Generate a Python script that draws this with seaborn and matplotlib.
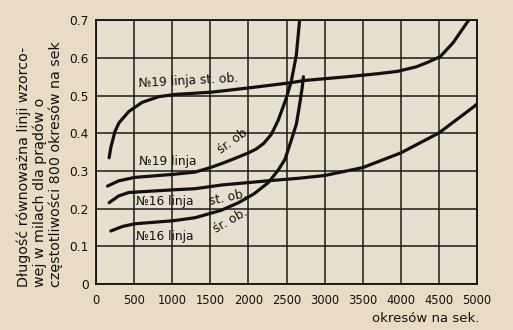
import matplotlib
matplotlib.use("Agg")
import matplotlib.pyplot as plt
import seaborn as sns
import pandas as pd

# Data
x_19_st = [173, 195, 250, 303, 433, 606, 823, 1039, 1516, 1992, 2555, 2737, 3300, 3700, 3950, 4200, 4350, 4515, 4685, 4890]
y_19_st = [0.335, 0.362, 0.405, 0.428, 0.458, 0.482, 0.497, 0.503, 0.509, 0.520, 0.534, 0.540, 0.550, 0.558, 0.564, 0.576, 0.588, 0.603, 0.640, 0.700]

x_19_sr = [152, 300, 510, 1009, 1299, 1500, 1654, 1819, 2000, 2100, 2200, 2300, 2390, 2490, 2563, 2628, 2672]
y_19_sr = [0.260, 0.274, 0.283, 0.291, 0.297, 0.309, 0.320, 0.333, 0.348, 0.358, 0.373, 0.397, 0.434, 0.489, 0.538, 0.606, 0.700]

x_16_st = [173, 300, 433, 1009, 1299, 1654, 2260, 2676, 3000, 3500, 4000, 4500, 4967, 5000]
y_16_st = [0.216, 0.234, 0.243, 0.250, 0.253, 0.263, 0.274, 0.281, 0.288, 0.309, 0.348, 0.401, 0.472, 0.478]

x_16_sr = [195, 350, 510, 1009, 1299, 1646, 1871, 2078, 2260, 2390, 2480, 2560, 2630, 2675, 2705, 2722]
y_16_sr = [0.141, 0.153, 0.160, 0.168, 0.176, 0.196, 0.216, 0.240, 0.269, 0.302, 0.331, 0.380, 0.425, 0.480, 0.520, 0.550]

x_ticks = [0, 500, 1000, 1500, 2000, 2500, 3000, 3500, 4000, 4500, 5000]
y_ticks = [0, 0.1, 0.2, 0.3, 0.4, 0.5, 0.6, 0.7]
y_tick_labels = ["0", "0.1", "0.2", "0.3", "0.4", "0.5", "0.6", "0.7"]

sns.set_theme(style="white")
plt.rcParams["font.family"] = ["DejaVu Sans"]

fig = plt.figure(figsize=(5.13, 3.30), dpi=100)
fig.patch.set_facecolor("#e9dcc5")
ax = fig.add_axes([0.187, 0.139, 0.743, 0.800])
ax.set_facecolor("#e8e0ce")

for xs, ys in [(x_19_st, y_19_st), (x_19_sr, y_19_sr), (x_16_st, y_16_st), (x_16_sr, y_16_sr)]:
    df = pd.DataFrame({"x": xs, "y": ys})
    sns.lineplot(data=df, x="x", y="y", ax=ax, color="#111111", linewidth=2.3,
                 sort=False, estimator=None, zorder=3)

ax.set_xlim(0, 5000)
ax.set_ylim(0, 0.7)
ax.set_xticks(x_ticks)
ax.set_xticklabels([str(t) for t in x_ticks])
ax.set_yticks(y_ticks)
ax.set_yticklabels(y_tick_labels)
ax.grid(True, color="#1a1a1a", linewidth=1.1)
ax.set_axisbelow(True)
ax.tick_params(axis="x", length=0, labelsize=8.3, colors="#111111", pad=7)
ax.tick_params(axis="y", length=0, labelsize=8.8, colors="#111111", pad=5)
for s in ax.spines.values():
    s.set_color("#111111")
    s.set_linewidth(1.3)

ax.set_xlabel("")
ax.set_ylabel("")

fig.text(0.935, 0.036, "okresów na sek.", ha="right", va="center", fontsize=9.5, color="#111111")
fig.text(0.078, 0.13,
         "Długość równoważna linji wzorco-\nwej w milach dla prądów o\nczęstotliwości 800 okresów na sek",
         rotation=90, ha="center", va="bottom", multialignment="left",
         fontsize=10.3, color="#111111", linespacing=1.12)

tk = dict(fontsize=8.8, color="#111111", zorder=4)
ax.text(560, 0.516, "№19 linja st. ob.", ha="left", va="bottom", rotation=3, rotation_mode="anchor", **tk)
ax.text(560, 0.308, "№19 linja", ha="left", va="bottom", **tk)
ax.text(1660, 0.338, "śr. ob.", ha="left", va="bottom", rotation=36, rotation_mode="anchor", **tk)
ax.text(520, 0.203, "№16 linja", ha="left", va="bottom", **tk)
ax.text(1500, 0.203, "st. ob.", ha="left", va="bottom", rotation=12, rotation_mode="anchor", **tk)
ax.text(520, 0.110, "№16 linja", ha="left", va="bottom", **tk)
ax.text(1600, 0.128, "śr. ob.", ha="left", va="bottom", rotation=30, rotation_mode="anchor", **tk)

fig.savefig("out.png", dpi=100, facecolor=fig.get_facecolor())
